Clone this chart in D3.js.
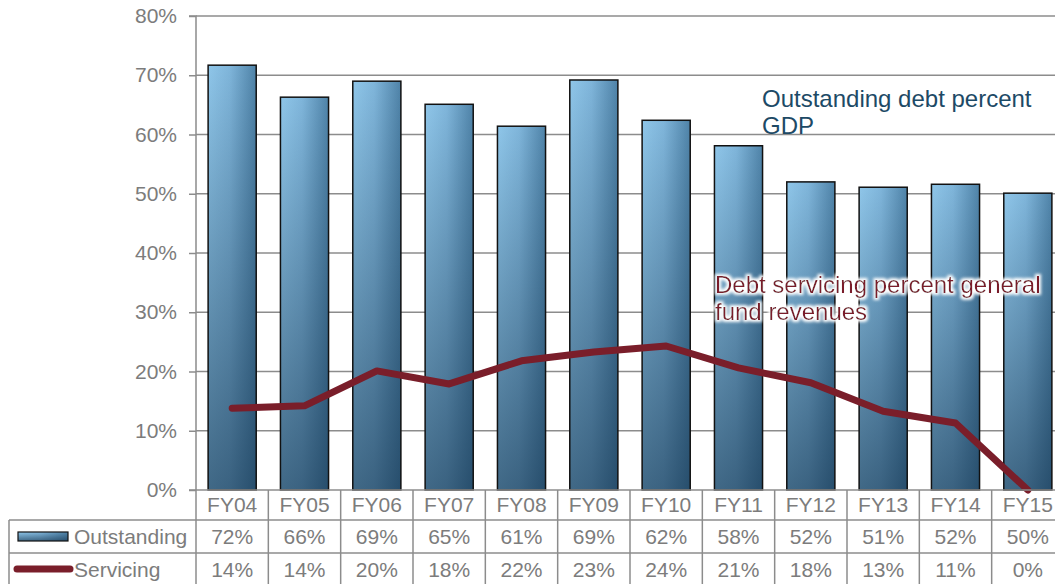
<!DOCTYPE html>
<html>
<head>
<meta charset="utf-8">
<script src="https://cdn.jsdelivr.net/npm/d3@7/dist/d3.min.js"></script>
<style>
  html, body { margin: 0; padding: 0; background: #fff; overflow: hidden; }
  svg { display: block; font-family: "Liberation Sans", Arial, sans-serif; }
</style>
</head>
<body>
<svg id="chart" width="1055" height="584"></svg>
<script>
// Fiscal years
const years = ["FY04","FY05","FY06","FY07","FY08","FY09","FY10","FY11","FY12","FY13","FY14","FY15"];
// Outstanding debt as a share of GDP
const outstanding = [0.717, 0.663, 0.690, 0.651, 0.614, 0.692, 0.624, 0.581, 0.520, 0.511, 0.516, 0.501];
// Debt servicing as a share of general fund revenues
const servicing = [0.138, 0.142, 0.201, 0.179, 0.218, 0.233, 0.243, 0.206, 0.181, 0.133, 0.113, 0.0];
// Axis ticks
const yTicks = [0, 0.1, 0.2, 0.3, 0.4, 0.5, 0.6, 0.7, 0.8];

const svg = d3.select("#chart");
const W = 1055, H = 584;
const plot = { left: 196, right: 1064, top: 16, bottom: 490 };

const x = d3.scaleBand().domain(years).range([plot.left, plot.right]).paddingInner(0.335).paddingOuter(0.1675);
const xBand = d3.scaleBand().domain(years).range([plot.left, plot.right]);
const y = d3.scaleLinear().domain([0, 0.8]).range([plot.bottom, plot.top]);
const pct = d3.format(".0%");

const gridColor = "#8c8c8c";
const textColor = "#7c7c7c";
const lineColor = "#7a1e2a";
const fs = 21;

// Gradients for the bars
const defs = svg.append("defs");
const gH = defs.append("linearGradient").attr("id", "barH").attr("x1", 0).attr("x2", 1).attr("y1", 0).attr("y2", 0);
gH.append("stop").attr("offset", "0%").attr("stop-color", "#8fc6e9");
gH.append("stop").attr("offset", "45%").attr("stop-color", "#7fb5da");
gH.append("stop").attr("offset", "100%").attr("stop-color", "#4f83a8");
const gV = defs.append("linearGradient").attr("id", "barV").attr("x1", 0).attr("x2", 0).attr("y1", 0).attr("y2", 1);
gV.append("stop").attr("offset", "0%").attr("stop-color", "#0c2a44").attr("stop-opacity", 0);
gV.append("stop").attr("offset", "100%").attr("stop-color", "#0c2a44").attr("stop-opacity", 0.6);

// White glow behind the servicing annotation
const glow = defs.append("filter").attr("id", "glow").attr("x", "-10%").attr("y", "-30%").attr("width", "120%").attr("height", "160%");
glow.append("feMorphology").attr("in", "SourceAlpha").attr("operator", "dilate").attr("radius", 2).attr("result", "d");
glow.append("feGaussianBlur").attr("in", "d").attr("stdDeviation", 1.5).attr("result", "b");
glow.append("feFlood").attr("flood-color", "#ffffff");
glow.append("feComposite").attr("in2", "b").attr("operator", "in").attr("result", "w");
const gm = glow.append("feMerge");
gm.append("feMergeNode").attr("in", "w");
gm.append("feMergeNode").attr("in", "SourceGraphic");

// Gridlines
svg.append("g").selectAll("line").data(yTicks.slice(1)).join("line")
  .attr("x1", plot.left).attr("x2", W)
  .attr("y1", d => y(d)).attr("y2", d => y(d))
  .attr("stroke", gridColor).attr("stroke-width", 1.5);

// Y axis
const yAxis = d3.axisLeft(y).tickValues(yTicks).tickFormat(pct).tickSize(7).tickPadding(12);
const gy = svg.append("g").attr("transform", `translate(${plot.left},0)`).call(yAxis);
gy.select(".domain").attr("stroke", gridColor).attr("stroke-width", 1.5).attr("d", `M-7,${plot.top}H0V${plot.bottom}`);
gy.selectAll(".tick line").attr("stroke", gridColor).attr("stroke-width", 1.5);
gy.selectAll(".tick text").attr("fill", textColor).attr("font-size", fs).attr("font-family", "Liberation Sans, Arial, sans-serif");

// Bars
const bars = svg.append("g");
bars.selectAll("rect.h").data(outstanding).join("rect").attr("class", "h")
  .attr("x", (d, i) => x(years[i])).attr("width", x.bandwidth())
  .attr("y", d => y(d)).attr("height", d => plot.bottom - y(d))
  .attr("fill", "url(#barH)");
bars.selectAll("rect.v").data(outstanding).join("rect").attr("class", "v")
  .attr("x", (d, i) => x(years[i])).attr("width", x.bandwidth())
  .attr("y", d => y(d)).attr("height", d => plot.bottom - y(d))
  .attr("fill", "url(#barV)")
  .attr("stroke", "#111").attr("stroke-width", 1.5);

// Servicing line
const line = d3.line().x((d, i) => xBand(years[i]) + xBand.bandwidth() / 2).y(d => y(d));
svg.append("path").datum(servicing)
  .attr("d", line).attr("fill", "none")
  .attr("stroke", lineColor).attr("stroke-width", 7)
  .attr("stroke-linecap", "round").attr("stroke-linejoin", "round");

// Baseline
svg.append("line").attr("x1", plot.left - 7).attr("x2", W).attr("y1", plot.bottom).attr("y2", plot.bottom)
  .attr("stroke", gridColor).attr("stroke-width", 1.5);

// Annotations
const a1 = svg.append("text").attr("x", 762).attr("y", 107).attr("fill", "#1d4a66").attr("font-size", 24);
a1.append("tspan").attr("x", 762).attr("dy", 0).text("Outstanding debt percent");
a1.append("tspan").attr("x", 762).attr("dy", 27).text("GDP");

const a2 = svg.append("text").attr("x", 715).attr("y", 293).attr("fill", lineColor).attr("font-size", 24).attr("filter", "url(#glow)");
a2.append("tspan").attr("x", 715).attr("dy", 0).text("Debt servicing percent general");
a2.append("tspan").attr("x", 715).attr("dy", 27).text("fund revenues");

// Data table
const rows = { head: [490, 520], out: [520, 553], serv: [553, 584] };
const tbl = svg.append("g").attr("stroke", gridColor).attr("stroke-width", 1.5);
// vertical separators
tbl.selectAll("line.v").data(years.concat(["end"])).join("line").attr("class", "v")
  .attr("x1", (d, i) => plot.left + i * xBand.bandwidth()).attr("x2", (d, i) => plot.left + i * xBand.bandwidth())
  .attr("y1", rows.head[0]).attr("y2", H);
// horizontal separators
tbl.append("line").attr("x1", 9).attr("x2", W).attr("y1", rows.out[0]).attr("y2", rows.out[0]);
tbl.append("line").attr("x1", 9).attr("x2", W).attr("y1", rows.serv[0]).attr("y2", rows.serv[0]);
tbl.append("line").attr("x1", 9).attr("x2", 9).attr("y1", rows.out[0]).attr("y2", H);

const cx = d => xBand(d) + xBand.bandwidth() / 2;
const tg = svg.append("g").attr("fill", textColor).attr("font-size", fs).attr("text-anchor", "middle");
tg.selectAll("text.h").data(years).join("text").attr("class", "h")
  .attr("x", d => cx(d)).attr("y", 512).text(d => d);
tg.selectAll("text.o").data(outstanding).join("text").attr("class", "o")
  .attr("x", (d, i) => cx(years[i])).attr("y", 544).text(d => pct(d));
tg.selectAll("text.s").data(servicing).join("text").attr("class", "s")
  .attr("x", (d, i) => cx(years[i])).attr("y", 577).text(d => pct(d));

// Row legends
svg.append("rect").attr("x", 18).attr("y", 532).attr("width", 50).attr("height", 9).attr("fill", "url(#barH)");
svg.append("rect").attr("x", 18).attr("y", 532).attr("width", 50).attr("height", 9).attr("fill", "url(#barV)")
  .attr("stroke", "#111").attr("stroke-width", 1.2);
svg.append("text").attr("x", 74).attr("y", 544).attr("fill", textColor).attr("font-size", fs).text("Outstanding");
svg.append("line").attr("x1", 17).attr("x2", 70).attr("y1", 569).attr("y2", 569)
  .attr("stroke", lineColor).attr("stroke-width", 7).attr("stroke-linecap", "round");
svg.append("text").attr("x", 74).attr("y", 577).attr("fill", textColor).attr("font-size", fs).text("Servicing");
</script>
</body>
</html>
